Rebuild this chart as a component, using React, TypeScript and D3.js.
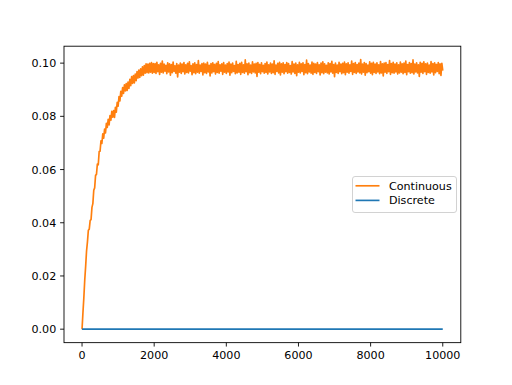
import React from "react";
import * as d3 from "d3";

// sample grid step for the Continuous series (x = index * step)
const xStep = 25;

// Continuous series, rising part 0..1975
const continuousRise = [
  0.0, 0.0062, 0.0118, 0.0185, 0.0236, 0.0294, 0.0328, 0.0372, 0.0376, 0.0408,
  0.0412, 0.0458, 0.0472, 0.0522, 0.0531, 0.0578, 0.0582, 0.0621, 0.0618, 0.0668,
  0.0669, 0.0708, 0.0698, 0.0734, 0.0718, 0.0752, 0.0738, 0.0774, 0.0758, 0.0789,
  0.0768, 0.0803, 0.0786, 0.0819, 0.0797, 0.0822, 0.0796, 0.0834, 0.0816, 0.0853,
  0.0838, 0.0874, 0.0858, 0.0894, 0.0876, 0.0908, 0.0886, 0.0918, 0.0896, 0.0923,
  0.0897, 0.0929, 0.0905, 0.0939, 0.0915, 0.0949, 0.0924, 0.0953, 0.0926, 0.0959,
  0.0934, 0.0968, 0.0944, 0.0974, 0.0946, 0.0979, 0.0953, 0.0986, 0.0955, 0.0991,
  0.0962, 0.0997, 0.0964, 0.0996, 0.0963, 0.0999, 0.0966, 0.1002, 0.0962, 0.0998,
];

// Continuous series, plateau 2000..10000
const continuousPlateau = [
  0.0965, 0.0998, 0.0961, 0.1003, 0.0968, 0.0994, 0.0958, 0.0999, 0.0966, 0.1008, 0.0963, 0.0996, 0.0970, 0.0992, 0.0960, 0.1001,
  0.0967, 0.0997, 0.0955, 0.0995, 0.0964, 0.1004, 0.0969, 0.0990, 0.0962, 0.0998, 0.0948, 0.0993, 0.0966, 0.1000, 0.0961, 0.0996,
  0.0968, 0.1002, 0.0959, 0.0994, 0.0965, 0.0999, 0.0963, 0.1005, 0.0970, 0.0991, 0.0957, 0.0997, 0.0964, 0.1001, 0.0960, 0.0995,
  0.0966, 0.1010, 0.0962, 0.0993, 0.0969, 0.0998, 0.0956, 0.1000, 0.0964, 0.0996, 0.0961, 0.1003, 0.0967, 0.0992, 0.0952, 0.0998,
  0.0963, 0.1001, 0.0968, 0.0995, 0.0959, 0.0999, 0.0965, 0.1006, 0.0962, 0.0994, 0.0970, 0.0997, 0.0958, 0.1002, 0.0966, 0.0993,
  0.0961, 0.0998, 0.0967, 0.1004, 0.0955, 0.0996, 0.0964, 0.1000, 0.0969, 0.0991, 0.0960, 0.1007, 0.0963, 0.0995, 0.0966, 0.0999,
  0.0958, 0.1003, 0.0965, 0.0994, 0.0962, 0.1012, 0.0968, 0.0997, 0.0957, 0.1000, 0.0964, 0.0993, 0.0961, 0.1005, 0.0967, 0.0996,
  0.0963, 0.0999, 0.0950, 0.1002, 0.0966, 0.0995, 0.0960, 0.1001, 0.0968, 0.0992, 0.0962, 0.0998, 0.0965, 0.1004, 0.0959, 0.0994,
  0.0967, 0.1000, 0.0961, 0.0996, 0.0964, 0.1009, 0.0958, 0.0993, 0.0969, 0.0999, 0.0963, 0.1003, 0.0956, 0.0997, 0.0966, 0.1001,
  0.0960, 0.0995, 0.0968, 0.1002, 0.0962, 0.0998, 0.0965, 0.0991, 0.0959, 0.1006, 0.0967, 0.0996, 0.0961, 0.1000, 0.0953, 0.0994,
  0.0966, 0.1003, 0.0963, 0.0997, 0.0969, 0.1001, 0.0957, 0.0995, 0.0964, 0.1011, 0.0960, 0.0998, 0.0967, 0.0993, 0.0962, 0.1004,
  0.0958, 0.0999, 0.0965, 0.0996, 0.0961, 0.1002, 0.0968, 0.0994, 0.0956, 0.1000, 0.0964, 0.1005, 0.0960, 0.0997, 0.0966, 0.0992,
  0.0963, 0.1001, 0.0959, 0.0998, 0.0967, 0.1007, 0.0962, 0.0995, 0.0949, 0.1000, 0.0965, 0.0993, 0.0961, 0.1003, 0.0968, 0.0996,
  0.0960, 0.0999, 0.0964, 0.1004, 0.0957, 0.0997, 0.0966, 0.1001, 0.0962, 0.0994, 0.0969, 0.1008, 0.0958, 0.0998, 0.0965, 0.1002,
  0.0961, 0.0995, 0.0967, 0.1000, 0.0963, 0.1013, 0.0959, 0.0996, 0.0966, 0.1002, 0.0955, 0.0998, 0.0964, 0.0993, 0.0968, 0.1005,
  0.0962, 0.0999, 0.0957, 0.1003, 0.0965, 0.0996, 0.0961, 0.1001, 0.0967, 0.0994, 0.0960, 0.1006, 0.0963, 0.0997, 0.0952, 0.1000,
  0.0966, 0.1002, 0.0961, 0.0995, 0.0968, 0.1010, 0.0958, 0.0998, 0.0964, 0.1003, 0.0962, 0.0996, 0.0967, 0.1001, 0.0959, 0.0994,
  0.0963, 0.1004, 0.0966, 0.0997, 0.0960, 0.1000, 0.0965, 0.1008, 0.0957, 0.0995, 0.0968, 0.1002, 0.0962, 0.0998, 0.0964, 0.1012,
  0.0959, 0.0996, 0.0967, 0.1001, 0.0963, 0.0994, 0.0950, 0.1003, 0.0966, 0.0999, 0.0961, 0.1005, 0.0968, 0.0997, 0.0958, 0.1000,
  0.0965, 0.0993, 0.0962, 0.1006, 0.0967, 0.0998, 0.0956, 0.1001, 0.0964, 0.0995, 0.0969, 0.1002, 0.0960, 0.0997, 0.0954, 0.0999,
  0.0972,
];

const continuousValues = [...continuousRise, ...continuousPlateau];

// Discrete series (flat at zero)
const discreteX = [0, 10000];
const discreteValues = [0, 0];

const xTicks = [0, 2000, 4000, 6000, 8000, 10000];
const yTicks = [0.0, 0.02, 0.04, 0.06, 0.08, 0.1];

const seriesNames = ["Continuous", "Discrete"];
const seriesColors = ["#ff7f0e", "#1f77b4"];

const W = 512;
const H = 385;
const margin = { left: 64, right: 51.2, top: 46.2, bottom: 42.35 };
const FONT = "'DejaVu Sans', sans-serif";

export default function App() {
  const x0 = margin.left;
  const x1 = W - margin.right;
  const y0 = H - margin.bottom;
  const y1 = margin.top;

  const continuousPts = continuousValues.map((v, i) => [i * xStep, v] as [number, number]);
  const discretePts = discreteX.map((x, i) => [x, discreteValues[i]] as [number, number]);

  const allY = [...continuousValues, ...discreteValues];
  const yMin = d3.min(allY)!;
  const yMax = d3.max(allY)!;
  const yPad = (yMax - yMin) * 0.05;
  const xMin = 0;
  const xMax = 10000;
  const xPad = (xMax - xMin) * 0.05;

  const xScale = d3.scaleLinear().domain([xMin - xPad, xMax + xPad]).range([x0, x1]);
  const yScale = d3.scaleLinear().domain([yMin - yPad, yMax + yPad]).range([y0, y1]);

  const line = d3
    .line<[number, number]>()
    .x((d) => xScale(d[0]))
    .y((d) => yScale(d[1]));

  const tickLen = 3.9;
  const fs = 11.1;
  const lw = 1.67;

  // legend
  const lgX = 352.5;
  const lgY = 176.5;
  const lgW = 104;
  const lgH = 36;

  return (
    <svg
      width={W}
      height={H}
      style={{ position: "absolute", left: 0, top: 0, background: "#fff" }}
      fontFamily={FONT}
    >
      <rect x={0} y={0} width={W} height={H} fill="#fff" />
      <path d={line(continuousPts)!} fill="none" stroke={seriesColors[0]} strokeWidth={lw} strokeLinejoin="round" />
      <path d={line(discretePts)!} fill="none" stroke={seriesColors[1]} strokeWidth={lw} />

      {/* spines */}
      <rect x={x0} y={y1} width={x1 - x0} height={y0 - y1} fill="none" stroke="#000" strokeWidth={0.89} />

      {/* x ticks */}
      {xTicks.map((t) => (
        <g key={"x" + t}>
          <line x1={xScale(t)} x2={xScale(t)} y1={y0} y2={y0 + tickLen} stroke="#000" strokeWidth={0.89} />
          <text x={xScale(t)} y={y0 + tickLen + 3.9 + fs * 0.76} fontSize={fs} textAnchor="middle" fill="#000">
            {String(t)}
          </text>
        </g>
      ))}

      {/* y ticks */}
      {yTicks.map((t) => (
        <g key={"y" + t}>
          <line x1={x0 - tickLen} x2={x0} y1={yScale(t)} y2={yScale(t)} stroke="#000" strokeWidth={0.89} />
          <text x={x0 - tickLen - 3.9} y={yScale(t)} dy="0.36em" fontSize={fs} textAnchor="end" fill="#000">
            {t.toFixed(2)}
          </text>
        </g>
      ))}

      {/* legend */}
      <rect x={lgX} y={lgY} width={lgW} height={lgH} rx={2.5} fill="#fff" fillOpacity={0.8} stroke="#cccccc" strokeWidth={0.89} />
      {seriesNames.map((name, i) => {
        const cy = lgY + 9.3 + i * 14.6;
        return (
          <g key={name}>
            <line x1={lgX + 3} x2={lgX + 27} y1={cy} y2={cy} stroke={seriesColors[i]} strokeWidth={lw} />
            <text x={lgX + 36.5} y={cy} dy="0.36em" fontSize={fs} fill="#000">
              {name}
            </text>
          </g>
        );
      })}
    </svg>
  );
}
